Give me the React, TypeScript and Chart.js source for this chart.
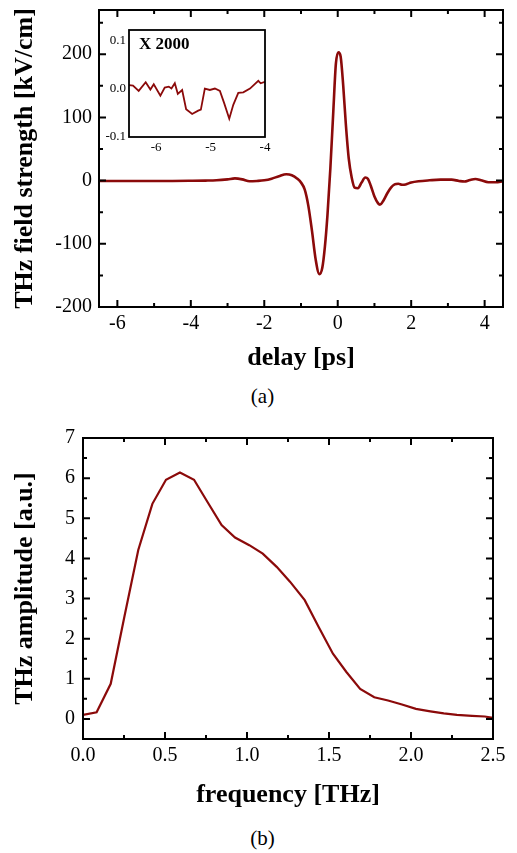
import React, { useEffect, useRef } from "react";
import { Chart, registerables } from "chart.js";
Chart.register(...registerables);

// ---- Data: (a) time-domain THz field ----
const delayPs = [-6.5, -6.0, -5.5, -5.0, -4.5, -4.0, -3.6, -3.3, -3.0, -2.8, -2.6, -2.4, -2.2, -2.0, -1.8, -1.6, -1.4, -1.25, -1.1, -1.0, -0.9, -0.8, -0.7, -0.6, -0.5, -0.42, -0.35, -0.28, -0.2, -0.12, -0.05, 0.02, 0.08, 0.15, 0.22, 0.3, 0.38, 0.46, 0.55, 0.65, 0.75, 0.82, 0.9, 1.0, 1.1, 1.15, 1.25, 1.35, 1.45, 1.55, 1.65, 1.75, 1.85, 2.0, 2.2, 2.5, 2.8, 3.1, 3.3, 3.45, 3.6, 3.75, 3.9, 4.1, 4.3, 4.5];
const fieldKVcm = [-0.5, -0.5, -0.5, -0.5, -0.5, -0.3, 0, 0.5, 2, 3.5, 2, -1, -0.5, 0.5, 3, 7, 10, 8.5, 3, -3, -14, -40, -80, -125, -148, -138, -105, -55, 20, 110, 185, 203, 196, 150, 90, 35, 5, -11, -12, -3, 5, 3, -8, -25, -36, -38, -31, -20, -11, -6, -5, -6.5, -6, -3, -1, 0.5, 1.5, 1.5, -0.5, -1.5, 1, 2.5, 0.5, -2.5, -2.5, -1];

// ---- Data: inset (x 2000) ----
const insetDelay = [-6.5, -6.426, -6.322, -6.193, -6.107, -6.045, -5.923, -5.843, -5.769, -5.72, -5.658, -5.603, -5.523, -5.45, -5.339, -5.228, -5.179, -5.106, -5.014, -4.921, -4.829, -4.749, -4.657, -4.583, -4.491, -4.399, -4.276, -4.123, -4.08, -4.0];
const insetField = [0.008, 0.007, -0.004, 0.014, -0.001, 0.01, -0.014, 0.003, 0.005, 0.001, 0.012, -0.01, -0.002, -0.042, -0.052, -0.045, -0.043, 0.001, -0.002, 0.001, -0.004, -0.03, -0.062, -0.033, -0.008, -0.007, 0.001, 0.017, 0.012, 0.015];

// ---- Data: (b) spectrum ----
const freqTHz = [0.0, 0.083, 0.169, 0.252, 0.337, 0.423, 0.506, 0.591, 0.677, 0.76, 0.845, 0.927, 1.014, 1.096, 1.181, 1.262, 1.352, 1.437, 1.524, 1.606, 1.69, 1.776, 1.86, 1.945, 2.03, 2.118, 2.2, 2.28, 2.372, 2.45, 2.5];
const amplitude = [0.1, 0.165, 0.875, 2.54, 4.21, 5.36, 5.96, 6.14, 5.96, 5.4, 4.83, 4.52, 4.33, 4.12, 3.79, 3.42, 2.96, 2.29, 1.625, 1.17, 0.75, 0.54, 0.46, 0.36, 0.25, 0.19, 0.14, 0.1, 0.075, 0.06, 0.025];

// ---- Tick definitions ----
const topXTicks = [-6, -5, -4, -3, -2, -1, 0, 1, 2, 3, 4];
const topXMajor = [-6, -4, -2, 0, 2, 4];
const topYTicks = [-200, -150, -100, -50, 0, 50, 100, 150, 200, 250];
const topYMajor = [-200, -100, 0, 100, 200];
const insetXTicks = [-6, -5, -4];
const insetYTicks = [-0.1, 0.0, 0.1];
const botXTicks = [0, 0.25, 0.5, 0.75, 1.0, 1.25, 1.5, 1.75, 2.0, 2.25, 2.5];
const botXMajor = [0, 0.5, 1.0, 1.5, 2.0, 2.5];
const botYTicks = [-0.5, 0, 0.5, 1, 1.5, 2, 2.5, 3, 3.5, 4, 4.5, 5, 5.5, 6, 6.5, 7];
const botYMajor = [0, 1, 2, 3, 4, 5, 6, 7];

const LINE = "#8b0a0a";
const SERIF = "'Liberation Serif', 'Times New Roman', serif";

const isMajor = (arr: number[], v: number) => arr.some((m) => Math.abs(m - v) < 1e-9);

const fitX = (h: number) => (s: any) => {
  s.height = h;
  s.paddingLeft = 0;
  s.paddingRight = 0;
  s.paddingTop = 0;
  s.paddingBottom = 0;
};
const fitY = (w: number) => (s: any) => {
  s.width = w;
  s.paddingLeft = 0;
  s.paddingRight = 0;
  s.paddingTop = 0;
  s.paddingBottom = 0;
};

function boxTicksPlugin(xMajor: number[] | null, yMajor: number[] | null, majLen: number, minLen: number, lw: number) {
  return {
    id: "boxTicks",
    afterDraw(chart: any) {
      const { ctx, chartArea: a, scales } = chart;
      ctx.save();
      ctx.strokeStyle = "#000";
      ctx.lineWidth = lw;
      ctx.strokeRect(a.left, a.top, a.right - a.left, a.bottom - a.top);
      if (xMajor) {
        for (const t of scales.x.ticks) {
          const px = scales.x.getPixelForValue(t.value);
          const len = isMajor(xMajor, t.value) ? majLen : minLen;
          ctx.beginPath();
          ctx.moveTo(px, a.bottom);
          ctx.lineTo(px, a.bottom - len);
          ctx.moveTo(px, a.top);
          ctx.lineTo(px, a.top + len);
          ctx.stroke();
        }
      }
      if (yMajor) {
        for (const t of scales.y.ticks) {
          const py = scales.y.getPixelForValue(t.value);
          const len = isMajor(yMajor, t.value) ? majLen : minLen;
          ctx.beginPath();
          ctx.moveTo(a.left, py);
          ctx.lineTo(a.left + len, py);
          ctx.moveTo(a.right, py);
          ctx.lineTo(a.right - len, py);
          ctx.stroke();
        }
      }
      ctx.restore();
    },
  };
}

function useChart(ref: React.RefObject<HTMLCanvasElement>, make: () => any) {
  useEffect(() => {
    if (!ref.current) return;
    const chart = new Chart(ref.current, make());
    return () => chart.destroy();
  }, []);
}

export default function App() {
  const topRef = useRef<HTMLCanvasElement>(null);
  const insetRef = useRef<HTMLCanvasElement>(null);
  const botRef = useRef<HTMLCanvasElement>(null);

  useChart(topRef, () => ({
    type: "line",
    data: {
      datasets: [
        {
          data: delayPs.map((x, i) => ({ x, y: fieldKVcm[i] })),
          borderColor: LINE,
          borderWidth: 2.6,
          pointRadius: 0,
          cubicInterpolationMode: "monotone",
          fill: false,
        },
      ],
    },
    options: {
      animation: false,
      responsive: false,
      events: [],
      layout: { padding: { top: 10, right: 14, left: 0, bottom: 0 } },
      plugins: { legend: { display: false }, tooltip: { enabled: false } },
      scales: {
        x: {
          type: "linear",
          min: -6.5,
          max: 4.5,
          grid: { display: false, drawTicks: false },
          border: { display: false },
          afterBuildTicks: (s: any) => { s.ticks = topXTicks.map((v) => ({ value: v })); },
          afterFit: fitX(73),
          ticks: {
            autoSkip: false, maxRotation: 0, padding: 5, color: "#000",
            font: { family: SERIF, size: 20 },
            callback: (v: number) => (isMajor(topXMajor, v) ? String(v) : ""),
          },
          title: { display: true, text: "delay [ps]", color: "#000", font: { family: SERIF, size: 26, weight: "bold" }, padding: { top: 0, bottom: 6 } },
        },
        y: {
          type: "linear",
          min: -200,
          max: 270,
          grid: { display: false, drawTicks: false },
          border: { display: false },
          afterBuildTicks: (s: any) => { s.ticks = topYTicks.map((v) => ({ value: v })); },
          afterFit: fitY(99),
          ticks: {
            autoSkip: false, padding: 7, color: "#000",
            font: { family: SERIF, size: 20 },
            callback: (v: number) => (isMajor(topYMajor, v) ? String(v) : ""),
          },
          title: { display: true, text: "THz field strength [kV/cm]", color: "#000", font: { family: SERIF, size: 26, weight: "bold" }, padding: { top: 10, bottom: 0 } },
        },
      },
    },
    plugins: [boxTicksPlugin(topXMajor, topYMajor, 7, 4, 2)],
  }));

  useChart(insetRef, () => ({
    type: "line",
    data: {
      datasets: [
        {
          data: insetDelay.map((x, i) => ({ x, y: insetField[i] })),
          borderColor: LINE,
          borderWidth: 1.8,
          pointRadius: 0,
          tension: 0,
          fill: false,
        },
      ],
    },
    options: {
      animation: false,
      responsive: false,
      events: [],
      layout: { padding: { top: 5, right: 10, left: 0, bottom: 0 } },
      plugins: { legend: { display: false }, tooltip: { enabled: false } },
      scales: {
        x: {
          type: "linear",
          min: -6.5,
          max: -4,
          grid: { display: false, drawTicks: false },
          border: { display: false },
          afterBuildTicks: (s: any) => { s.ticks = insetXTicks.map((v) => ({ value: v })); },
          afterFit: fitX(23),
          ticks: { autoSkip: false, maxRotation: 0, padding: 3, color: "#000", font: { family: SERIF, size: 13 }, callback: (v: number) => String(v) },
        },
        y: {
          type: "linear",
          min: -0.1,
          max: 0.123,
          grid: { display: false, drawTicks: false },
          border: { display: false },
          afterBuildTicks: (s: any) => { s.ticks = insetYTicks.map((v) => ({ value: v })); },
          afterFit: fitY(29),
          ticks: { autoSkip: false, padding: 3, color: "#000", font: { family: SERIF, size: 13 }, callback: (v: number) => v.toFixed(1) },
        },
      },
    },
    plugins: [
      boxTicksPlugin(null, null, 0, 0, 1.8),
      {
        id: "insetLabel",
        afterDraw(chart: any) {
          const { ctx, chartArea: a } = chart;
          ctx.save();
          ctx.fillStyle = "#000";
          ctx.font = `bold 17px ${SERIF}`;
          ctx.textBaseline = "middle";
          ctx.fillText("X 2000", a.left + 10, a.top + 15);
          ctx.restore();
        },
      },
    ],
  }));

  useChart(botRef, () => ({
    type: "line",
    data: {
      datasets: [
        {
          data: freqTHz.map((x, i) => ({ x, y: amplitude[i] })),
          borderColor: LINE,
          borderWidth: 2.2,
          pointRadius: 0,
          tension: 0,
          fill: false,
        },
      ],
    },
    options: {
      animation: false,
      responsive: false,
      events: [],
      layout: { padding: { top: 18, right: 24, left: 0, bottom: 0 } },
      plugins: { legend: { display: false }, tooltip: { enabled: false } },
      scales: {
        x: {
          type: "linear",
          min: 0,
          max: 2.5,
          grid: { display: false, drawTicks: false },
          border: { display: false },
          afterBuildTicks: (s: any) => { s.ticks = botXTicks.map((v) => ({ value: v })); },
          afterFit: fitX(81),
          ticks: {
            autoSkip: false, maxRotation: 0, padding: 5, color: "#000",
            font: { family: SERIF, size: 20 },
            callback: (v: number) => (isMajor(botXMajor, v) ? v.toFixed(1) : ""),
          },
          title: { display: true, text: "frequency [THz]", color: "#000", font: { family: SERIF, size: 26, weight: "bold" }, padding: { top: 0, bottom: 9 } },
        },
        y: {
          type: "linear",
          min: -0.5,
          max: 7,
          grid: { display: false, drawTicks: false },
          border: { display: false },
          afterBuildTicks: (s: any) => { s.ticks = botYTicks.map((v) => ({ value: v })); },
          afterFit: fitY(83),
          ticks: {
            autoSkip: false, padding: 8, color: "#000",
            font: { family: SERIF, size: 20 },
            callback: (v: number) => (isMajor(botYMajor, v) ? String(v) : ""),
          },
          title: { display: true, text: "THz amplitude [a.u.]", color: "#000", font: { family: SERIF, size: 26, weight: "bold" }, padding: { top: 10, bottom: 0 } },
        },
      },
    },
    plugins: [boxTicksPlugin(botXMajor, botYMajor, 7, 4, 2)],
  }));

  const cap: React.CSSProperties = {
    position: "absolute",
    left: 0,
    width: 517,
    textAlign: "center",
    fontFamily: SERIF,
    fontSize: 21,
    color: "#000",
    lineHeight: "24px",
  };

  return (
    <div style={{ position: "absolute", left: 0, top: 0, width: 517, height: 853, background: "#fff", overflow: "hidden" }}>
      <canvas ref={topRef} width={517} height={380} style={{ position: "absolute", left: 0, top: 0, width: 517, height: 380 }} />
      <canvas ref={insetRef} width={175} height={135} style={{ position: "absolute", left: 100, top: 25, width: 175, height: 135 }} />
      <div style={{ ...cap, top: 384, paddingLeft: 4 }}>(a)</div>
      <canvas ref={botRef} width={517} height={400} style={{ position: "absolute", left: 0, top: 420, width: 517, height: 400 }} />
      <div style={{ ...cap, top: 826, paddingLeft: 4 }}>(b)</div>
    </div>
  );
}
